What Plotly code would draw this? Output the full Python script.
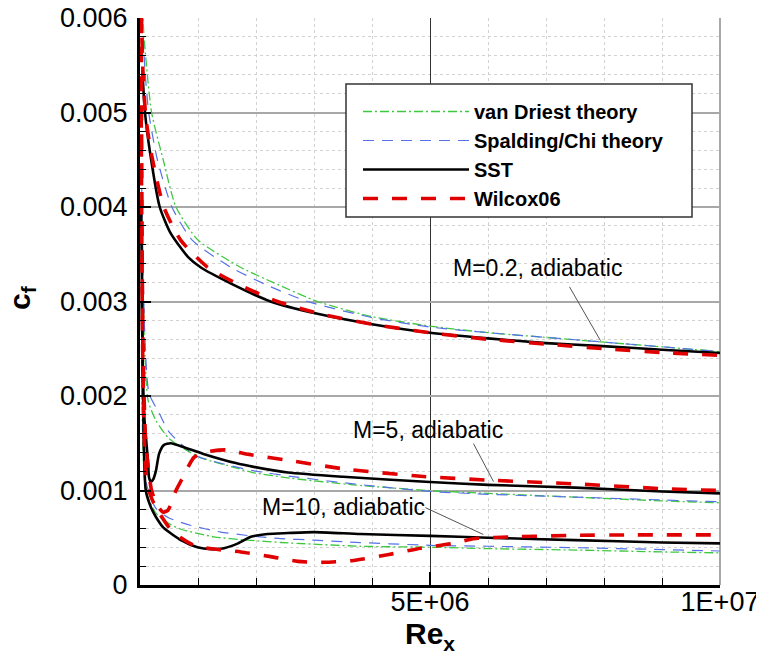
import plotly.graph_objects as go

# ---------------- data (Re_x, c_f) ----------------
# M = 0.2, adiabatic
m02_vd_x = [0.03e6, 0.07e6, 0.2e6, 0.4e6, 0.62e6, 1.0e6, 1.74e6, 2.3e6, 3.06e6, 4.0e6, 5.0e6, 6.0e6, 7.0e6, 8.0e6, 9.0e6, 10.0e6]
m02_vd_y = [6.3e-3, 5.8e-3, 5.0e-3, 4.5e-3, 4.0e-3, 3.65e-3, 3.36e-3, 3.2e-3, 3.0e-3, 2.84e-3, 2.74e-3, 2.67e-3, 2.62e-3, 2.57e-3, 2.52e-3, 2.47e-3]
m02_sc_x = [0.03e6, 0.08e6, 0.15e6, 0.3e6, 0.55e6, 0.9e6, 1.57e6, 2.2e6, 2.89e6, 4.0e6, 5.0e6, 6.0e6, 7.0e6, 8.0e6, 9.0e6, 10.0e6]
m02_sc_y = [6.2e-3, 5.5e-3, 5.0e-3, 4.5e-3, 4.0e-3, 3.65e-3, 3.36e-3, 3.17e-3, 3.0e-3, 2.83e-3, 2.73e-3, 2.67e-3, 2.62e-3, 2.57e-3, 2.52e-3, 2.47e-3]
m02_sst_x = [0.04e6, 0.086e6, 0.17e6, 0.34e6, 0.53e6, 0.83e6, 1.05e6, 1.57e6, 2.25e6, 3.06e6, 4.0e6, 5.0e6, 6.0e6, 7.0e6, 7.9e6, 9.0e6, 10.0e6]
m02_sst_y = [5.45e-3, 5.0e-3, 4.59e-3, 4.0e-3, 3.72e-3, 3.47e-3, 3.36e-3, 3.19e-3, 3.0e-3, 2.87e-3, 2.76e-3, 2.67e-3, 2.61e-3, 2.56e-3, 2.53e-3, 2.49e-3, 2.455e-3]
m02_wx_x = [0.02e6, 0.05e6, 0.1e6, 0.2e6, 0.41e6, 0.7e6, 1.17e6, 1.7e6, 2.37e6, 3.1e6, 4.0e6, 5.0e6, 6.0e6, 7.0e6, 8.0e6, 9.0e6, 10.0e6]
m02_wx_y = [6.1e-3, 5.45e-3, 4.95e-3, 4.55e-3, 4.0e-3, 3.65e-3, 3.36e-3, 3.18e-3, 3.0e-3, 2.87e-3, 2.76e-3, 2.67e-3, 2.6e-3, 2.55e-3, 2.5e-3, 2.46e-3, 2.43e-3]

# M = 5, adiabatic
m5_vd_x = [0.03e6, 0.08e6, 0.14e6, 0.275e6, 0.5e6, 0.79e6, 1.08e6, 1.65e6, 1.94e6, 2.6e6, 3.68e6, 4.96e6, 6.0e6, 7.5e6, 9.0e6, 10.0e6]
m5_vd_y = [4.0e-3, 2.5e-3, 1.95e-3, 1.74e-3, 1.55e-3, 1.43e-3, 1.34e-3, 1.24e-3, 1.19e-3, 1.13e-3, 1.06e-3, 1.0e-3, 0.97e-3, 0.93e-3, 0.89e-3, 0.87e-3]
m5_sc_x = [0.03e6, 0.08e6, 0.155e6, 0.33e6, 0.5e6, 0.96e6, 1.65e6, 1.94e6, 2.6e6, 3.68e6, 5.0e6, 6.0e6, 7.5e6, 9.0e6, 10.0e6]
m5_sc_y = [4.2e-3, 2.7e-3, 2.03e-3, 1.82e-3, 1.62e-3, 1.37e-3, 1.25e-3, 1.21e-3, 1.15e-3, 1.07e-3, 0.99e-3, 0.96e-3, 0.93e-3, 0.9e-3, 0.88e-3]
m5_sst_x = [0.03e6, 0.05e6, 0.069e6, 0.14e6, 0.155e6, 0.19e6, 0.23e6, 0.275e6, 0.33e6, 0.41e6, 0.53e6, 0.79e6, 1.08e6, 1.65e6, 1.96e6, 2.55e6, 3.5e6, 5.0e6, 6.0e6, 7.5e6, 9.0e6, 10.0e6]
m5_sst_y = [3.0e-3, 2.2e-3, 1.82e-3, 1.29e-3, 1.14e-3, 1.09e-3, 1.12e-3, 1.21e-3, 1.39e-3, 1.48e-3, 1.5e-3, 1.45e-3, 1.39e-3, 1.29e-3, 1.25e-3, 1.19e-3, 1.145e-3, 1.09e-3, 1.06e-3, 1.03e-3, 0.99e-3, 0.97e-3]
m5_wx_x = [0.02e6, 0.05e6, 0.1e6, 0.2e6, 0.3e6, 0.4e6, 0.48e6, 0.55e6, 0.62e6, 0.74e6, 0.83e6, 0.93e6, 1.08e6, 1.48e6, 1.88e6, 2.55e6, 3.5e6, 4.84e6, 6.0e6, 7.5e6, 9.0e6, 10.0e6]
m5_wx_y = [6.0e-3, 2.6e-3, 1.5e-3, 1.0e-3, 0.84e-3, 0.77e-3, 0.79e-3, 0.88e-3, 1.0e-3, 1.14e-3, 1.25e-3, 1.35e-3, 1.4e-3, 1.43e-3, 1.38e-3, 1.32e-3, 1.23e-3, 1.15e-3, 1.11e-3, 1.07e-3, 1.02e-3, 1.0e-3]

# M = 10, adiabatic
m10_vd_x = [0.03e6, 0.1e6, 0.275e6, 0.5e6, 0.705e6, 1.27e6, 1.85e6, 2.43e6, 3.8e6, 5.0e6, 6.0e6, 7.5e6, 9.0e6, 10.0e6]
m10_vd_y = [3.5e-3, 1.0e-3, 0.76e-3, 0.65e-3, 0.59e-3, 0.51e-3, 0.475e-3, 0.45e-3, 0.41e-3, 0.4e-3, 0.385e-3, 0.37e-3, 0.35e-3, 0.34e-3]
m10_sc_x = [0.03e6, 0.1e6, 0.275e6, 0.5e6, 0.88e6, 1.39e6, 1.91e6, 2.43e6, 3.0e6, 3.58e6, 5.0e6, 6.0e6, 7.5e6, 9.0e6, 10.0e6]
m10_sc_y = [3.7e-3, 1.1e-3, 0.81e-3, 0.71e-3, 0.63e-3, 0.56e-3, 0.52e-3, 0.49e-3, 0.475e-3, 0.455e-3, 0.42e-3, 0.41e-3, 0.395e-3, 0.375e-3, 0.36e-3]
m10_sst_x = [0.02e6, 0.05e6, 0.1e6, 0.19e6, 0.275e6, 0.4e6, 0.705e6, 0.99e6, 1.22e6, 1.45e6, 1.69e6, 1.91e6, 2.2e6, 2.55e6, 3.0e6, 3.8e6, 5.0e6, 6.0e6, 7.5e6, 9.0e6, 10.0e6]
m10_sst_y = [4.0e-3, 2.1e-3, 1.0e-3, 0.82e-3, 0.72e-3, 0.61e-3, 0.475e-3, 0.4e-3, 0.38e-3, 0.39e-3, 0.44e-3, 0.51e-3, 0.54e-3, 0.55e-3, 0.56e-3, 0.54e-3, 0.52e-3, 0.5e-3, 0.475e-3, 0.45e-3, 0.44e-3]
m10_wx_x = [0.02e6, 0.05e6, 0.1e6, 0.18e6, 0.275e6, 0.5e6, 0.705e6, 0.93e6, 1.27e6, 1.74e6, 2.25e6, 2.72e6, 3.17e6, 3.68e6, 4.27e6, 4.84e6, 5.4e6, 5.75e6, 6.44e6, 7.5e6, 8.45e6, 10.0e6]
m10_wx_y = [5.0e-3, 2.3e-3, 1.2e-3, 0.95e-3, 0.82e-3, 0.61e-3, 0.5e-3, 0.42e-3, 0.38e-3, 0.35e-3, 0.3e-3, 0.25e-3, 0.24e-3, 0.26e-3, 0.32e-3, 0.39e-3, 0.44e-3, 0.49e-3, 0.51e-3, 0.525e-3, 0.53e-3, 0.53e-3]

# axis ticks
y_tick_vals = [0, 0.001, 0.002, 0.003, 0.004, 0.005, 0.006]
y_tick_text = ["0", "0.001", "0.002", "0.003", "0.004", "0.005", "0.006"]
x_tick_vals = [5e6, 1e7]
x_tick_text = ["5E+06", "1E+07"]

series_names = ["van Driest theory", "Spalding/Chi theory", "SST", "Wilcox06"]
case_labels = ["M=0.2, adiabatic", "M=5, adiabatic", "M=10, adiabatic"]

# ---------------- figure ----------------
FONT = "Liberation Sans, Arial, Helvetica, sans-serif"
styles = {
    "van Driest theory": dict(color="#3ec83e", width=1.3, dash="9px,3px,2px,3px"),
    "Spalding/Chi theory": dict(color="#5672e6", width=1.2, dash="11px,8px"),
    "SST": dict(color="black", width=2.6, dash="solid"),
    "Wilcox06": dict(color="#e00000", width=3.6, dash="15px,14px"),
}

cases = [
    (m02_vd_x, m02_vd_y, m02_sc_x, m02_sc_y, m02_sst_x, m02_sst_y, m02_wx_x, m02_wx_y),
    (m5_vd_x, m5_vd_y, m5_sc_x, m5_sc_y, m5_sst_x, m5_sst_y, m5_wx_x, m5_wx_y),
    (m10_vd_x, m10_vd_y, m10_sc_x, m10_sc_y, m10_sst_x, m10_sst_y, m10_wx_x, m10_wx_y),
]

fig = go.Figure()
for k, name in enumerate(series_names):
    for ci, c in enumerate(cases):
        xs, ys = c[2 * k], c[2 * k + 1]
        fig.add_trace(go.Scatter(
            x=xs, y=ys, mode="lines", name=name, legendgroup=name,
            showlegend=(ci == 0), line=dict(shape="spline", smoothing=0.6, **styles[name]),
            hoverinfo="skip",
        ))

# page has an 8px body margin: figure origin sits at (8, 8) of the window
OFF = 8
W, H = 764 - OFF, 663 - OFF
X0, X1 = 140, 720      # plot area in window pixels
Y0, Y1 = 18, 585


def px2paper(px, py):
    return (px - X0) / (X1 - X0), 1 - (py - Y0) / (Y1 - Y0)


lx0, ly0 = px2paper(346, 84)
lx1, ly1 = px2paper(692, 217)
legx, legy = px2paper(358, 92)
cfx, cfy = px2paper(21, 298)

shapes = [
    dict(type="line", xref="paper", yref="paper", x0=1, x1=1, y0=0, y1=1,
         line=dict(color="#a8a8a8", width=2), layer="between"),
    dict(type="rect", xref="paper", yref="paper", x0=lx0, x1=lx1, y0=ly1, y1=ly0,
         line=dict(color="#333333", width=1.5), fillcolor="white", layer="above"),
]

# leader lines of the case labels (layout positions in data units)
leaders = [
    ((7.405e6, 3.155e-3), (7.94e6, 2.585e-3)),
    ((5.75e6, 1.496e-3), (6.095e6, 1.094e-3)),
    ((4.92e6, 0.819e-3), (5.92e6, 0.534e-3)),
]
for (a, b) in leaders:
    shapes.append(dict(type="line", xref="x", yref="y", x0=a[0], y0=a[1], x1=b[0], y1=b[1],
                       line=dict(color="#555555", width=1)))

label_pos = [(6.85e6, 3.356e-3), (4.97e6, 1.644e-3), (3.51e6, 0.83e-3)]
annotations = []
for txt, (ax_, ay_) in zip(case_labels, label_pos):
    annotations.append(dict(x=ax_, y=ay_, xref="x", yref="y", text=txt, showarrow=False,
                            font=dict(family=FONT, size=23, color="black"),
                            xanchor="center", yanchor="middle"))
# y-axis title (placed as a rotated annotation so it can sit close to the page edge)
annotations.append(dict(x=cfx, y=cfy, xref="paper", yref="paper", text="<b>c<sub>f</sub></b>",
                        showarrow=False, textangle=-90, xanchor="center", yanchor="middle",
                        font=dict(family=FONT, size=30, color="black")))

fig.update_layout(
    width=W, height=H,
    margin=dict(l=X0 - OFF, r=W - (X1 - OFF), t=Y0 - OFF, b=H - (Y1 - OFF)),
    paper_bgcolor="white", plot_bgcolor="white",
    font=dict(family=FONT, color="black"),
    shapes=shapes, annotations=annotations,
    legend=dict(x=legx, y=legy, xanchor="left", yanchor="top",
                bgcolor="rgba(0,0,0,0)", borderwidth=0, itemwidth=106,
                font=dict(family=FONT, size=20, color="black", weight="bold"),
                tracegroupgap=0),
    xaxis=dict(
        range=[0, 1e7], tickmode="array", tickvals=x_tick_vals, ticktext=x_tick_text,
        showgrid=True, gridcolor="#333333", gridwidth=1, zeroline=False,
        showline=True, linecolor="black", linewidth=3,
        ticks="inside", ticklen=13, tickwidth=2, tickcolor="black",
        tickfont=dict(family=FONT, size=27, color="black"), ticklabelstandoff=-9,
        ticklabeloverflow="allow",
        minor=dict(dtick=1e6, tick0=0, ticks="inside", ticklen=7, tickwidth=1.2,
                   tickcolor="black", showgrid=True, gridcolor="#d2d2d2", griddash="dot", gridwidth=1),
        title=dict(text="<b>Re<sub>x</sub></b>", font=dict(family=FONT, size=30, color="black"), standoff=7),
        automargin=False,
    ),
    yaxis=dict(
        range=[0, 0.006], tickmode="array", tickvals=y_tick_vals, ticktext=y_tick_text,
        showgrid=True, gridcolor="#a8a8a8", gridwidth=2, zeroline=False,
        showline=True, linecolor="black", linewidth=3,
        ticks="inside", ticklen=11, tickwidth=2, tickcolor="black",
        tickfont=dict(family=FONT, size=27, color="black"), ticklabelstandoff=4,
        ticklabeloverflow="allow",
        minor=dict(dtick=0.0002, tick0=0, ticks="inside", ticklen=6, tickwidth=1.2,
                   tickcolor="black", showgrid=True, gridcolor="#d2d2d2", griddash="dot", gridwidth=1),
        automargin=False,
    ),
)

fig.write_html("out.html")
